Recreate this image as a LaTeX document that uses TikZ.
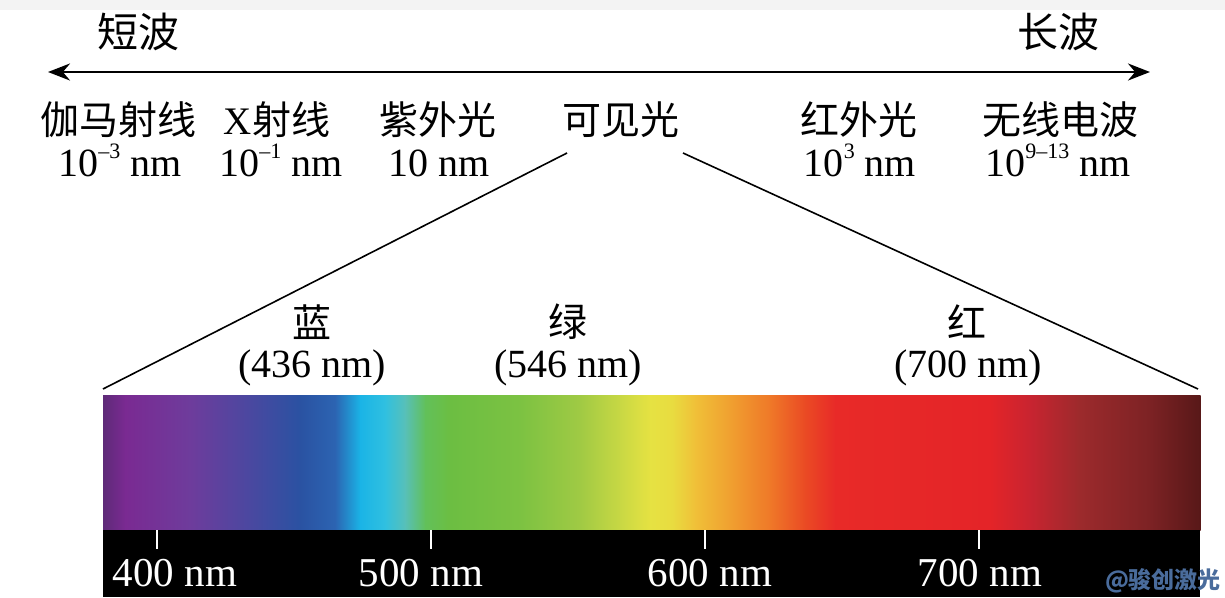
\documentclass[tikz,border=0pt]{standalone}
\usepackage{fontspec}
\setmainfont{Liberation Serif}
\newfontfamily\cjk{Noto Sans CJK SC}
\usetikzlibrary{arrows.meta}
\definecolor{s1}{HTML}{5E2A78}
\definecolor{s2}{HTML}{7A2A92}
\definecolor{s3}{HTML}{6E3C9C}
\definecolor{s4}{HTML}{4A48A0}
\definecolor{s5}{HTML}{2A52A2}
\definecolor{s6}{HTML}{2C64B2}
\definecolor{s7}{HTML}{1AB4E6}
\definecolor{s8}{HTML}{30C0E0}
\definecolor{s9}{HTML}{58C0B8}
\definecolor{s10}{HTML}{62C05A}
\definecolor{s11}{HTML}{6CBE42}
\definecolor{s12}{HTML}{7CC242}
\definecolor{s13}{HTML}{A0CA44}
\definecolor{s14}{HTML}{C8D844}
\definecolor{s15}{HTML}{E6E242}
\definecolor{s16}{HTML}{E8DC40}
\definecolor{s17}{HTML}{F0C038}
\definecolor{s18}{HTML}{F0A030}
\definecolor{s19}{HTML}{EF7828}
\definecolor{s20}{HTML}{EA4A24}
\definecolor{s21}{HTML}{E82A28}
\definecolor{s22}{HTML}{E42428}
\definecolor{s23}{HTML}{C82430}
\definecolor{s24}{HTML}{9C2A2C}
\definecolor{s25}{HTML}{7C2224}
\definecolor{s26}{HTML}{581818}
\definecolor{topgray}{HTML}{F3F3F3}
\definecolor{wmark}{HTML}{4A6C9C}
\newcommand{\sps}[1]{\raisebox{0.45em}{\fontsize{22}{24}\selectfont #1}}
\tikzset{
  lbl/.style={inner sep=0pt, font=\fontsize{40}{42}\selectfont},
  cn/.style={lbl, font=\cjk\fontsize{39}{42}\selectfont},
  wl/.style={inner sep=0pt, text=white, font=\fontsize{41}{44}\selectfont},
  conn/.style={line width=1.6pt},
  tickw/.style={draw=white, line width=1.6pt},
}
\begin{document}
\begin{tikzpicture}[x=1pt,y=-1pt]
\useasboundingbox (0,0) rectangle (1225,597);
\fill[white] (0,0) rectangle (1225,597);
\fill[topgray] (0,0) rectangle (1225,10);
% main arrow
\coordinate (aL) at (48,72);
\coordinate (aR) at (1150,72);
\draw[line width=2.8pt, {Stealth[length=22pt,width=17pt]}-{Stealth[length=22pt,width=17pt]}] (aL) -- (aR);
\node[cn, font=\cjk\fontsize{41}{44}\selectfont] (short) at (138,32) {短波};
\node[cn, font=\cjk\fontsize{41}{44}\selectfont] (long) at (1058,32) {长波};
% band labels
\node[cn] (gamma) at (118,120) {伽马射线};
\node[cn] (xray) at (277,120) {\fontspec{Liberation Serif}X\cjk 射线};
\node[cn] (uv) at (438,120) {紫外光};
\node[cn] (vis) at (621,120) {可见光};
\node[cn] (ir) at (859,120) {红外光};
\node[cn] (radio) at (1060,120) {无线电波};
\node[lbl, anchor=base] (gammaw) at (120,176) {10\sps{–3} nm};
\node[lbl, anchor=base] (xrayw) at (281,176) {10\sps{–1} nm};
\node[lbl, anchor=base] (uvw) at (439,176) {10 nm};
\node[lbl, anchor=base] (irw) at (860,176) {10\sps{3} nm};
\node[lbl, anchor=base] (radiow) at (1058,176) {10\sps{9–13} nm};
% spectrum
\foreach \a/\ca/\b/\cb in {103/s1/125/s2,125/s2/190/s3,190/s3/250/s4,250/s4/300/s5,300/s5/335/s6,335/s6/360/s7,360/s7/385/s8,385/s8/405/s9,405/s9/425/s10,425/s10/450/s11,450/s11/520/s12,520/s12/580/s13,580/s13/620/s14,620/s14/650/s15,650/s15/672/s16,672/s16/695/s17,695/s17/730/s18,730/s18/770/s19,770/s19/805/s20,805/s20/835/s21,835/s21/990/s22,990/s22/1030/s23,1030/s23/1080/s24,1080/s24/1150/s25,1150/s25/1200/s26}
  \shade[left color=\ca, right color=\cb] (\a,395) rectangle (\b+0.6,530.5);
\node[inner sep=0pt, minimum width=1097pt, minimum height=135pt] (spec) at (651.5,462.5) {};
\fill[black] (103,530) rectangle (1200,597);
% connectors from visible light
\coordinate (visL) at (567,153);
\coordinate (visR) at (683,153);
\coordinate (specL) at (103,389);
\coordinate (specR) at (1198,389);
\draw[conn] (visL) -- (specL);
\draw[conn] (visR) -- (specR);
% colour labels
\node[cn] (blue) at (312,322) {蓝};
\node[lbl] (bluew) at (312,368) {(436 nm)};
\node[cn] (green) at (568,322) {绿};
\node[lbl] (greenw) at (568,368) {(546 nm)};
\node[cn] (red) at (967,322) {红};
\node[lbl] (redw) at (968,368) {(700 nm)};
% ticks
\foreach \x/\t/\lx in {157/400/175,431/500/421,705/600/710,979/700/980}{
  \coordinate (t\t a) at (\x,530);
  \coordinate (t\t b) at (\x,549);
  \draw[tickw] (t\t a) -- (t\t b);
  \node[wl] (l\t) at (\lx,573) {\t\ nm};
}
\node[inner sep=0pt, text=wmark, font=\fontspec{Noto Sans CJK SC}\bfseries\fontsize{23}{25}\selectfont] (wm) at (1163,581) {@骏创激光};
\end{tikzpicture}
\end{document}
